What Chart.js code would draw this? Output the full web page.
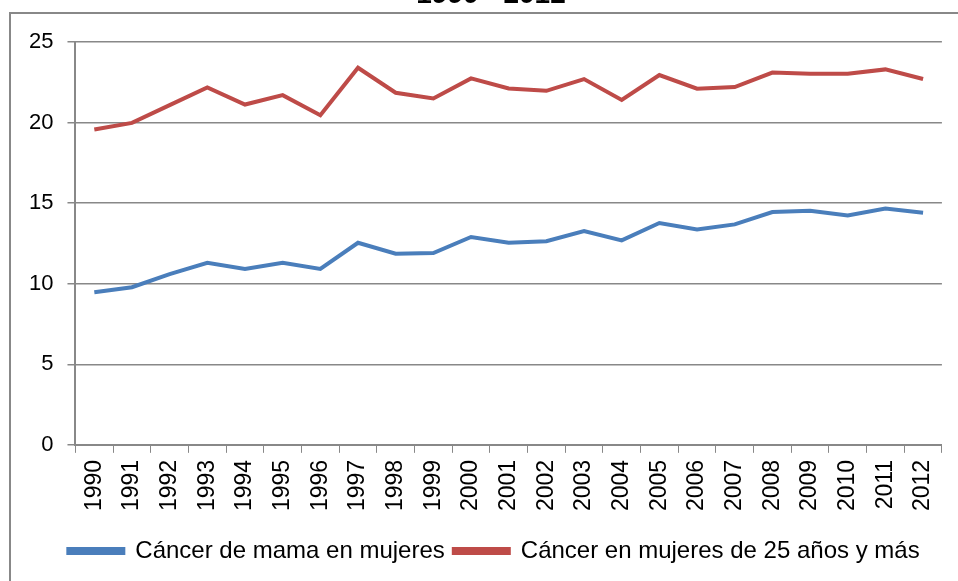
<!DOCTYPE html>
<html>
<head>
<meta charset="utf-8">
<script src="https://cdn.jsdelivr.net/npm/chart.js@4"></script>
<style>
  body { margin: 0; background: #fff; overflow: hidden; }
  #wrap { position: relative; width: 958px; height: 581px; overflow: hidden; }
  #frame { position: absolute; left: 9px; top: 12px; width: 1000px; height: 700px; border: 2px solid #888; }
  #chart { position: absolute; left: 0; top: -28px; }
</style>
</head>
<body>
<div id="wrap">
  <div id="frame"></div>
  <canvas id="chart" width="958" height="640"></canvas>
</div>
<script>
// años 1990 - 2012
const years = ["1990","1991","1992","1993","1994","1995","1996","1997","1998","1999","2000","2001","2002","2003","2004","2005","2006","2007","2008","2009","2010","2011","2012"];
const mama = [9.47, 9.78, 10.6, 11.3, 10.92, 11.3, 10.92, 12.54, 11.86, 11.9, 12.9, 12.54, 12.64, 13.27, 12.69, 13.77, 13.37, 13.68, 14.45, 14.53, 14.24, 14.66, 14.41];
const mujeres25 = [19.57, 19.98, 21.08, 22.18, 21.12, 21.7, 20.46, 23.4, 21.85, 21.5, 22.74, 22.12, 21.97, 22.7, 21.4, 22.95, 22.1, 22.2, 23.1, 23.03, 23.03, 23.3, 22.7];
const yTicks = [0, 5, 10, 15, 20, 25];

const font = "'Liberation Sans', Arial, sans-serif";
const gray = "#888888";

// the legend and title sit a bit right of the canvas centre in the original
const nudge = {
  id: "nudge",
  afterLayout(chart) {
    chart.legend.left += 15;
    chart.legend.right += 15;
    chart.legend.legendHitBoxes.forEach(b => (b.left += 15));
    chart.titleBlock.left += 12;
    chart.titleBlock.right += 12;
  }
};

const ctx = document.getElementById("chart").getContext("2d");
new Chart(ctx, {
  type: "line",
  data: {
    labels: years,
    datasets: [
      {
        label: "Cáncer de mama en mujeres",
        data: mama,
        borderColor: "#4A7EBB",
        backgroundColor: "#4A7EBB",
        borderWidth: 4,
        pointRadius: 0,
        tension: 0
      },
      {
        label: "Cáncer en mujeres de 25 años y más",
        data: mujeres25,
        borderColor: "#BE4B48",
        backgroundColor: "#BE4B48",
        borderWidth: 4,
        pointRadius: 0,
        tension: 0
      }
    ]
  },
  options: {
    responsive: false,
    animation: false,
    layout: { padding: { left: 15, right: 15, top: 0, bottom: 39 } },
    plugins: {
      title: {
        display: true,
        text: "1990 - 2012",
        color: "#000",
        font: { family: font, size: 28, weight: "bold" },
        padding: { top: 6, bottom: 30.4 }
      },
      legend: {
        position: "bottom",
        labels: {
          color: "#000",
          font: { family: font, size: 24 },
          boxWidth: 55,
          boxHeight: 4,
          padding: 9
        }
      },
      tooltip: { enabled: false }
    },
    scales: {
      x: {
        offset: true,
        grid: { offset: true, drawOnChartArea: false, drawTicks: true, tickLength: 8, color: gray, lineWidth: 1 },
        border: { color: gray, width: 2 },
        ticks: {
          color: "#000",
          font: { family: font, size: 23 },
          maxRotation: 90,
          minRotation: 90,
          autoSkip: false,
          padding: 7
        },
        afterFit: (s) => { s.height += 12; }
      },
      y: {
        min: 0,
        max: 25,
        afterBuildTicks: (s) => { s.ticks = yTicks.map(v => ({ value: v })); },
        grid: { color: gray, lineWidth: 1.5, tickLength: 8 },
        border: { color: gray, width: 2 },
        ticks: {
          color: "#000",
          font: { family: font, size: 22 },
          padding: 14
        }
      }
    }
  },
  plugins: [nudge]
});
</script>
</body>
</html>
